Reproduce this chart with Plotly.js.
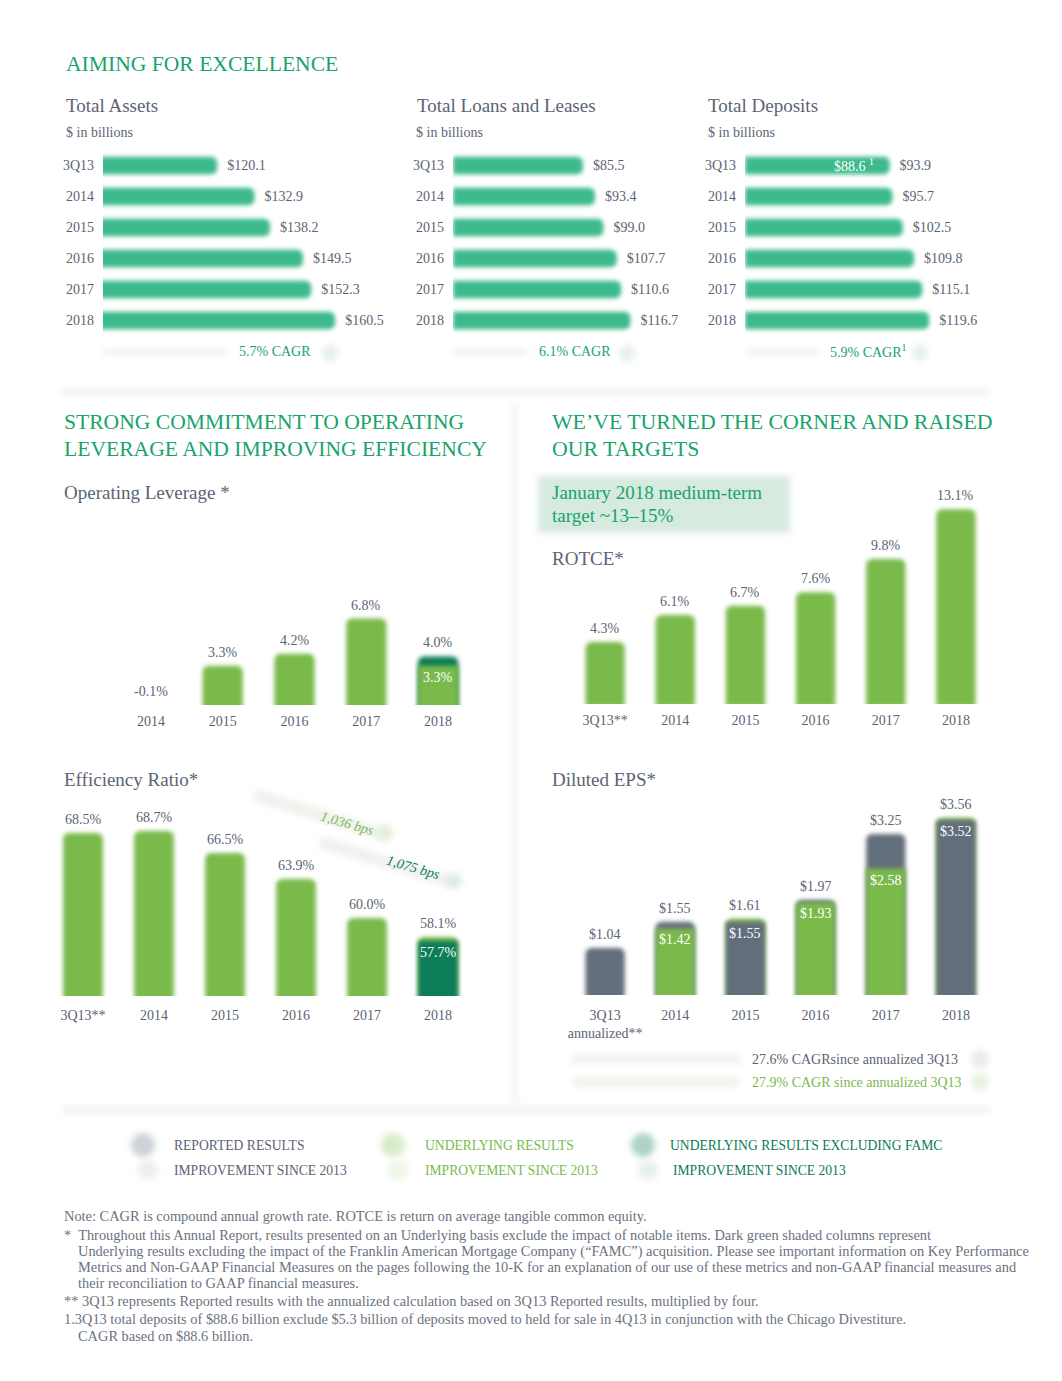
<!DOCTYPE html>
<html>
<head>
<meta charset="utf-8">
<script src="https://cdn.plot.ly/plotly-3.0.1.min.js"></script>
<style>
html,body{margin:0;padding:0;background:#ffffff;}
#chart{width:1062px;height:1381px;}
#chart .barlayer .point path{filter:url(#softBar);}
#chart .layer-below .shapelayer path{filter:url(#softShape);}
</style>
</head>
<body>
<svg width="0" height="0" style="position:absolute">
  <defs>
    <filter id="softBar" filterUnits="userSpaceOnUse" x="-2000" y="-2000" width="5000" height="5000">
      <feGaussianBlur stdDeviation="2.2"/>
    </filter>
    <filter id="softShape" filterUnits="userSpaceOnUse" x="-2000" y="-2000" width="5000" height="5000">
      <feGaussianBlur stdDeviation="3"/>
    </filter>
  </defs>
</svg>
<div id="chart"></div>
<script>
// ---------------- DATA ----------------
const years6 = ['3Q13', '2014', '2015', '2016', '2017', '2018'];
const totalAssets = [120.1, 132.9, 138.2, 149.5, 152.3, 160.5];
const totalLoans = [85.5, 93.4, 99.0, 107.7, 110.6, 116.7];
const totalDeposits = [93.9, 95.7, 102.5, 109.8, 115.1, 119.6];
const deposits3Q13Adjusted = 88.6;
const cagrAssets = '5.7% CAGR';
const cagrLoans = '6.1% CAGR';
const cagrDeposits = '5.9% CAGR<sup>1</sup>';

const opLevYears = ['2014', '2015', '2016', '2017', '2018'];
const opLevUnderlying = [-0.1, 3.3, 4.2, 6.8, 3.3];
const opLevExFAMC = [null, null, null, null, 4.0];

const rotceCats = ['3Q13**', '2014', '2015', '2016', '2017', '2018'];
const rotceValues = [4.3, 6.1, 6.7, 7.6, 9.8, 13.1];

const effCats = ['3Q13**', '2014', '2015', '2016', '2017', '2018'];
const effUnderlying = [68.5, 68.7, 66.5, 63.9, 60.0, 58.1];
const effExFAMC = [null, null, null, null, null, 57.7];
const effImprovUnderlying = '1,036 bps';
const effImprovExFAMC = '1,075 bps';

const epsCats = ['3Q13<br>annualized**', '2014', '2015', '2016', '2017', '2018'];
const epsReported = [1.04, 1.55, 1.55, 1.97, 3.25, 3.52];
const epsUnderlying = [null, 1.42, 1.61, 1.93, 2.58, 3.56];
const epsCagrReported = '27.6% CAGRsince annualized 3Q13';
const epsCagrUnderlying = '27.9% CAGR since annualized 3Q13';

const legendItems = ['REPORTED RESULTS', 'UNDERLYING RESULTS', 'UNDERLYING RESULTS EXCLUDING FAMC'];
const legendSub = 'IMPROVEMENT SINCE 2013';

const footnotes = [
  'Note: CAGR is compound annual growth rate. ROTCE is return on average tangible common equity.',
  '*  Throughout this Annual Report, results presented on an Underlying basis exclude the impact of notable items. Dark green shaded columns represent',
  'Underlying results excluding the impact of the Franklin American Mortgage Company (“FAMC”) acquisition. Please see important information on Key Performance',
  'Metrics and Non-GAAP Financial Measures on the pages following the 10-K for an explanation of our use of these metrics and non-GAAP financial measures and',
  'their reconciliation to GAAP financial measures.',
  '** 3Q13 represents Reported results with the annualized calculation based on 3Q13 Reported results, multiplied by four.',
  '1.3Q13 total deposits of $88.6 billion exclude $5.3 billion of deposits moved to held for sale in 4Q13 in conjunction with the Chicago Divestiture.',
  'CAGR based on $88.6 billion.'
];

// ---------------- STYLE ----------------
const W = 1062, H = 1381;
const fx = p => p / W;
const fy = p => 1 - p / H;
const FONT = '"Liberation Serif", "Times New Roman", serif';
const GRAY = '#5b6474';
const HEAD = '#17a46b';
const MINT = '#3dba8b';
const LGREEN = '#7aba4c';
const SLATE = '#646e7c';
const DGREEN = '#0a7b58';

const traces = [];
const ann = [];

// horizontal bar charts
function hbar(vals, xa, ya) {
  return {
    type: 'bar', orientation: 'h', x: vals, y: years6, xaxis: xa, yaxis: ya,
    width: 0.56, marker: {color: MINT},
    text: vals.map(v => '\u00a0\u00a0$' + v.toFixed(1)), textposition: 'outside',
    outsidetextfont: {family: FONT, size: 14, color: GRAY},
    constraintext: 'none', cliponaxis: false, hoverinfo: 'skip', showlegend: false
  };
}
traces.push(hbar(totalAssets, 'x', 'y'));
traces.push(hbar(totalLoans, 'x2', 'y2'));
traces.push(hbar(totalDeposits, 'x3', 'y3'));

// vertical paired bar charts: larger value drawn behind, smaller in front
function pairChart(cats, a, b, colA, colB, xa, ya, base, fmt) {
  const back = [], backCol = [], front = [], frontCol = [];
  cats.forEach((c, i) => {
    const va = a[i], vb = b[i];
    if (vb == null) { back.push(va); backCol.push(colA); front.push(null); frontCol.push(colA); }
    else if (va >= vb) { back.push(va); backCol.push(colA); front.push(vb); frontCol.push(colB); }
    else { back.push(vb); backCol.push(colB); front.push(va); frontCol.push(colA); }
  });
  const common = {type: 'bar', x: cats, xaxis: xa, yaxis: ya, width: 0.56, hoverinfo: 'skip', showlegend: false};
  traces.push(Object.assign({}, common, {y: back, marker: {color: backCol}}));
  traces.push(Object.assign({}, common, {y: front, marker: {color: frontCol}}));
  // annotations on a category axis: position = category index
  cats.forEach((c, i) => {
    ann.push({xref: xa, yref: ya, x: i, y: Math.max(back[i], base), text: fmt(back[i]), showarrow: false,
      xanchor: 'center', yanchor: 'bottom', yshift: 4, font: {family: FONT, size: 14, color: GRAY}});
    if (front[i] != null) {
      ann.push({xref: xa, yref: ya, x: i, y: front[i], text: fmt(front[i]), showarrow: false,
        xanchor: 'center', yanchor: 'top', yshift: -2, font: {family: FONT, size: 14, color: '#ffffff'}});
    }
  });
}
const pct = v => v.toFixed(1) + '%';
const usd = v => '$' + v.toFixed(2);

const opBase = 0.4, rotBase = 0.2, effBase = 52.2, epsBase = 0.13;
pairChart(opLevYears, opLevUnderlying, opLevExFAMC, LGREEN, DGREEN, 'x4', 'y4', opBase, pct);
pairChart(rotceCats, rotceValues, rotceValues.map(() => null), LGREEN, LGREEN, 'x5', 'y5', rotBase, pct);
pairChart(effCats, effUnderlying, effExFAMC, LGREEN, DGREEN, 'x6', 'y6', effBase, pct);
pairChart(epsCats, epsReported, epsUnderlying, SLATE, LGREEN, 'x7', 'y7', epsBase, usd);

// ---------------- AXES ----------------
const tickFont = {family: FONT, size: 14, color: GRAY};
function hx(d0, d1, r0, r1, anchor) {
  return {domain: [fx(d0), fx(d1)], range: [r0, r1], anchor: anchor, showgrid: false, zeroline: false,
    showline: false, showticklabels: false, fixedrange: true};
}
function hy(d0, d1, anchor) {
  return {domain: [fy(d1), fy(d0)], type: 'category', autorange: 'reversed', anchor: anchor,
    showgrid: false, zeroline: false, showline: false, ticks: '', tickfont: tickFont,
    ticklabelstandoff: 8, fixedrange: true};
}
function vx(d0, d1, n, anchor, standoff) {
  return {domain: [fx(d0), fx(d1)], type: 'category', range: [-0.5, n - 0.5], anchor: anchor,
    showgrid: false, zeroline: false, showline: false, ticks: '', tickfont: tickFont,
    ticklabelstandoff: standoff, fixedrange: true};
}
function vy(top, bottom, r0, pxPerUnit, anchor) {
  return {domain: [fy(bottom), fy(top)], range: [r0, r0 + (bottom - top) / pxPerUnit], anchor: anchor,
    showgrid: false, zeroline: false, showline: false, showticklabels: false, fixedrange: true};
}

// ---------------- ANNOTATIONS ----------------
function txt(x, y, text, size, color, extra) {
  ann.push(Object.assign({xref: 'paper', yref: 'paper', x: fx(x), y: fy(y), text: text, showarrow: false,
    xanchor: 'left', yanchor: 'middle', font: {family: FONT, size: size, color: color}}, extra || {}));
}
txt(64, 64, 'AIMING FOR EXCELLENCE', 21.6, HEAD);
txt(64, 106, 'Total Assets', 19, GRAY);
txt(64, 132, '$ in billions', 14, GRAY);
txt(415, 106, 'Total Loans and Leases', 19, GRAY);
txt(414, 132, '$ in billions', 14, GRAY);
txt(706, 106, 'Total Deposits', 19, GRAY);
txt(706, 132, '$ in billions', 14, GRAY);
txt(275, 351, cagrAssets, 14, HEAD, {xanchor: 'center'});
txt(575, 351, cagrLoans, 14, HEAD, {xanchor: 'center'});
txt(868, 351, cagrDeposits, 14, HEAD, {xanchor: 'center'});
ann.push({xref: 'x3', yref: 'y3', x: totalDeposits[0], y: 0, text: '$' + deposits3Q13Adjusted.toFixed(1) + ' <sup>1</sup>',
  showarrow: false, xanchor: 'right', xshift: -14, font: {family: FONT, size: 14, color: '#ffffff'}});

txt(62, 422, 'STRONG COMMITMENT TO OPERATING', 21.6, HEAD);
txt(62, 449, 'LEVERAGE AND IMPROVING EFFICIENCY', 21.6, HEAD);
txt(550, 422, 'WE’VE TURNED THE CORNER AND RAISED', 21.8, HEAD);
txt(550, 449, 'OUR TARGETS', 21.8, HEAD);
txt(62, 492, 'Operating Leverage *', 19, GRAY);
txt(550, 492, 'January 2018 medium-term', 19, HEAD);
txt(550, 515, 'target ~13–15%', 19, HEAD);
txt(550, 558, 'ROTCE*', 19, GRAY);
txt(62, 779, 'Efficiency Ratio*', 19, GRAY);
txt(550, 779, 'Diluted EPS*', 19, GRAY);
txt(347, 823, '<i>' + effImprovUnderlying + '</i>', 14, LGREEN, {xanchor: 'center', textangle: 16});
txt(413, 867, '<i>' + effImprovExFAMC + '</i>', 14, DGREEN, {xanchor: 'center', textangle: 16});
txt(750, 1059, epsCagrReported, 14, GRAY);
txt(750, 1082, epsCagrUnderlying, 14, LGREEN);

txt(172, 1145, legendItems[0], 13.6, GRAY);
txt(172, 1170, legendSub, 13.6, GRAY);
txt(423, 1145, legendItems[1], 13.6, LGREEN);
txt(423, 1170, legendSub, 13.6, LGREEN);
txt(668, 1145, legendItems[2], 13.6, DGREEN);
txt(671, 1170, legendSub, 13.6, DGREEN);

const fnY = [1216, 1235, 1251, 1267, 1283, 1301, 1319, 1336];
const fnX = [62, 62, 76, 76, 76, 62, 62, 76];
footnotes.forEach((t, i) => txt(fnX[i], fnY[i], t, 14.4, '#6b7280'));

// ---------------- SHAPES (soft decoration) ----------------
const shapes = [];
function pline(x0, y0, x1, y1, color, w) {
  shapes.push({type: 'line', xref: 'paper', yref: 'paper', x0: fx(x0), y0: fy(y0), x1: fx(x1), y1: fy(y1),
    line: {color: color, width: w}, layer: 'below'});
}
function pcirc(cx, cy, r, color) {
  shapes.push({type: 'circle', xref: 'paper', yref: 'paper', x0: fx(cx - r), x1: fx(cx + r), y0: fy(cy + r), y1: fy(cy - r),
    fillcolor: color, line: {width: 0}, layer: 'below'});
}
function prect(x0, y0, x1, y1, color) {
  shapes.push({type: 'rect', xref: 'paper', yref: 'paper', x0: fx(x0), x1: fx(x1), y0: fy(y1), y1: fy(y0),
    fillcolor: color, line: {width: 0}, layer: 'below'});
}
// dividers
pline(62, 392, 990, 392, '#eeeeee', 6);
pline(515, 402, 515, 1105, '#f5f5f5', 6);
pline(62, 1110, 990, 1110, '#f0f0f0', 6);
// CAGR arrows top
pline(103, 352, 228, 352, '#eef3f1', 6); pcirc(330, 353, 8, '#e6efe9');
pline(453, 352, 528, 352, '#eef3f1', 6); pcirc(627, 353, 8, '#e6efe9');
pline(745, 352, 820, 352, '#eef3f1', 6); pcirc(920, 353, 8, '#e6efe9');
// target box
prect(538, 476, 790, 533, '#d6eadf');
// efficiency improvement arrows
pline(255, 795, 385, 835, '#eef1ec', 12); pcirc(385, 833, 8, '#e4eedc');
pline(320, 842, 452, 882, '#eef1ef', 12); pcirc(454, 881, 8, '#dfeae5');
// EPS CAGR arrows
pline(572, 1059, 740, 1059, '#f1f2f4', 10); pcirc(980, 1059, 9, '#e8eaee');
pline(572, 1082, 740, 1082, '#f0f5ec', 10); pcirc(980, 1082, 9, '#e8f1e2');
// legend blobs
pcirc(143, 1145, 12, '#cfd2d8'); pcirc(148, 1170, 10, '#eceef1');
pcirc(393, 1145, 12, '#d9ecca'); pcirc(398, 1170, 10, '#eef6e8');
pcirc(643, 1145, 12, '#acd3c5'); pcirc(648, 1170, 10, '#e6f0ec');

const layout = {
  width: W, height: H, margin: {l: 0, r: 0, t: 0, b: 0},
  paper_bgcolor: '#ffffff', plot_bgcolor: 'rgba(0,0,0,0)',
  barmode: 'overlay', barcornerradius: 6, showlegend: false,
  font: {family: FONT, color: GRAY},
  xaxis: hx(103, 380, 81, 81 + 277 / 2.92, 'y'),
  yaxis: hy(150, 336, 'x'),
  xaxis2: hx(453, 700, 0, 247 / 1.52, 'y2'),
  yaxis2: hy(150, 336, 'x2'),
  xaxis3: hx(745, 1000, 0, 255 / 1.54, 'y3'),
  yaxis3: hy(150, 336, 'x3'),
  xaxis4: vx(115, 474, opLevYears.length, 'y4', 6),
  yaxis4: vy(505, 705, opBase, 13.5, 'x4'),
  xaxis5: vx(570, 991, rotceCats.length, 'y5', 6),
  yaxis5: vy(480, 704, rotBase, 15.1, 'x5'),
  xaxis6: vx(47.5, 473.5, effCats.length, 'y6', 9),
  yaxis6: vy(790, 996, effBase, 10, 'x6'),
  xaxis7: vx(570, 991, epsCats.length, 'y7', 10),
  yaxis7: vy(790, 995, epsBase, 51.6, 'x7'),
  annotations: ann,
  shapes: shapes
};

Plotly.newPlot('chart', traces, layout, {staticPlot: true, displayModeBar: false});
</script>
</body>
</html>
